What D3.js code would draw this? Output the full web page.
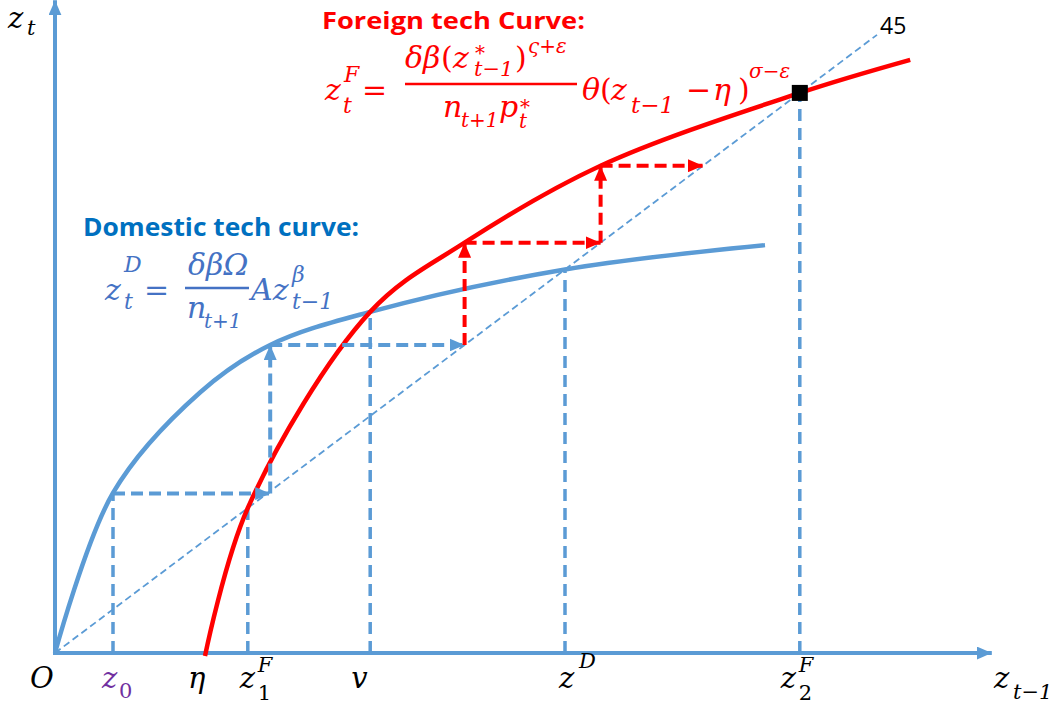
<!DOCTYPE html>
<html><head><meta charset="utf-8">
<script src="https://cdn.jsdelivr.net/npm/d3@7/dist/d3.min.js"></script>
<style>
html,body{margin:0;padding:0;background:#fff;}
svg{display:block;}
.mt{font-family:"DejaVu Serif",serif;}
.b{font-family:"Open Sans",Lato,sans-serif;font-weight:bold;}
.s{font-family:"Open Sans",Lato,sans-serif;}
</style></head>
<body>
<svg id="c" width="1058" height="706"></svg>
<script>
// ---------- data (model units; the 45-degree line is y = x) ----------
const domesticCurve = [[0,0],[0.725,2.66],[1.8125,4.33],[2.69,5.12],[3.94,5.67],[6.375,6.375],[8.875,6.78]];
const foreignCurve  = [[1.875,-0.05],[2.41,2.41],[3.94,5.67],[5.12,6.82],[6.82,8.1],[9.31,9.31],[10.69,9.86]];
const line45 = [[0,0],[10.275,10.275]];
const tickNames  = ["z0","eta","z1F","v","zD","z2F"];
const tickValues = [0.725,1.85,2.41,3.94,6.375,9.31];
const dropTops   = [2.65,null,2.41,5.67,6.375,9.31];
const blueSteps = [[[0.725,2.65],[2.69,2.65]],[[2.69,2.65],[2.69,5.12]],[[2.69,5.12],[5.12,5.12]]];
const redSteps  = [[[5.12,5.12],[5.12,6.82]],[[5.12,6.82],[6.82,6.82]],[[6.82,6.82],[6.82,8.1]],[[6.82,8.1],[8.1,8.1]]];
const fixedPoint = [9.31,9.31];
const axisMax = {x:11.71, y:10.85};

// ---------- scales ----------
const x = d3.scaleLinear().domain([0,12]).range([55,1015]);
const y = d3.scaleLinear().domain([0,12]).range([653,653-12*60.16]);

const svg = d3.select("#c");
const BLUE="#5B9BD5", RED="#FF0000";
const defs = svg.append("defs");
function marker(id,color,w,h){
  defs.append("marker").attr("id",id).attr("markerUnits","userSpaceOnUse")
    .attr("viewBox",`0 0 ${w} ${h}`).attr("refX",w).attr("refY",h/2)
    .attr("markerWidth",w).attr("markerHeight",h).attr("orient","auto")
    .append("path").attr("d",`M0,0L${w},${h/2}L0,${h}Z`).attr("fill",color);
}
marker("axA",BLUE,15,13);
marker("bA",BLUE,15,13);
marker("rA",RED,15,13);

const lineGen = d3.line().x(d=>x(d[0])).y(d=>y(d[1]));
const curveGen = d3.line().x(d=>x(d[0])).y(d=>y(d[1])).curve(d3.curveCatmullRom.alpha(0.5));

// 45-degree line
svg.append("path").attr("d",lineGen(line45)).attr("fill","none")
  .attr("stroke",BLUE).attr("stroke-width",1.8).attr("stroke-dasharray","7,4");

// drop lines
tickValues.forEach((v,i)=>{
  if(dropTops[i]==null) return;
  svg.append("line").attr("x1",x(v)).attr("x2",x(v)).attr("y1",y(0)).attr("y2",y(dropTops[i]))
    .attr("stroke",BLUE).attr("stroke-width",3.5).attr("stroke-dasharray","12,7");
});

// axes
svg.append("line").attr("x1",x(0)-2).attr("y1",y(0)).attr("x2",x(axisMax.x)).attr("y2",y(0))
  .attr("stroke",BLUE).attr("stroke-width",4).attr("marker-end","url(#axA)");
svg.append("line").attr("x1",x(0)).attr("y1",y(0)+2).attr("x2",x(0)).attr("y2",y(axisMax.y))
  .attr("stroke",BLUE).attr("stroke-width",4).attr("marker-end","url(#axA)");

// curves
svg.append("path").attr("d",curveGen(domesticCurve)).attr("fill","none").attr("stroke",BLUE).attr("stroke-width",4.5);
svg.append("path").attr("d",curveGen(foreignCurve)).attr("fill","none").attr("stroke",RED).attr("stroke-width",4.5);

// staircases
blueSteps.forEach(s=>{
  svg.append("line").attr("x1",x(s[0][0])).attr("y1",y(s[0][1])).attr("x2",x(s[1][0])).attr("y2",y(s[1][1]))
    .attr("stroke",BLUE).attr("stroke-width",4).attr("stroke-dasharray","12,6").attr("marker-end","url(#bA)");
});
redSteps.forEach(s=>{
  svg.append("line").attr("x1",x(s[0][0])).attr("y1",y(s[0][1])).attr("x2",x(s[1][0])).attr("y2",y(s[1][1]))
    .attr("stroke",RED).attr("stroke-width",4).attr("stroke-dasharray","12,6").attr("marker-end","url(#rA)");
});

// fixed point square
svg.append("rect").attr("x",x(fixedPoint[0])-8).attr("y",y(fixedPoint[1])-8).attr("width",16).attr("height",16).attr("fill","#000");

// ---------- math text helper: one <text> with absolutely placed tspans ----------
// spec item: [string, x, y, size, italic(1/0)]
function math(spec,color){
  const tx = svg.append("text").attr("class","mt").attr("fill",color);
  spec.forEach(s=>{
    tx.append("tspan").attr("x",s[1]).attr("y",s[2]).attr("font-size",s[3])
      .attr("font-style",s[4]?"italic":"normal").text(s[0]);
  });
  return tx;
}

// axis titles
math([["z",8,28,29,1],["t",27,35,21,1]],"#000");
math([["z",994,688,29,1],["t−1",1013,699,21,1]],"#000");
math([["O",30,688,29,1]],"#000");

// tick labels (positioned from the scale)
const X0 = tickValues.map(v=>x(v));
math([["z",X0[0]-11,688,29,1],["0",X0[0]+6,698,21,0]],"#7030A0");
math([["η",X0[1]-15,688,29,1]],"#000");
math([["z",X0[2]-8,688,29,1],["F",X0[2]+10,672,21,1],["1",X0[2]+10,700,21,0]],"#000");
math([["v",X0[3]-19,688,29,1]],"#000");
math([["z",X0[4]-6,688,29,1],["D",X0[4]+14,668,21,1]],"#000");
math([["z",X0[5]-19,688,29,1],["F",X0[5]-1,672,21,1],["2",X0[5]-1,700,21,0]],"#000");

// 45 label
svg.append("text").attr("class","s").attr("x",880).attr("y",34).attr("font-size",23).attr("fill","#000").text("45");

// Foreign tech curve title and formula
svg.append("text").attr("class","b").attr("x",322).attr("y",29).attr("font-size",24)
  .attr("textLength",263).attr("lengthAdjust","spacingAndGlyphs").attr("fill",RED).text("Foreign tech Curve:");
math([
  ["z",325,100,30,1],["t",343,113,22,1],["F",344,82,22,1],["=",362,100,30,0],
  ["δβ",405,68,30,1],["(",441,68,30,0],["z",453,68,30,1],["*",475,60,20,0],["t−1",474,76,21,1],[")",515,68,30,0],["ς+ε",528,53,20,1],
  ["n",443,117,30,1],["t+1",461,127,20,1],["p",499,117,30,1],["*",520,114,20,0],["t",519,128,20,1],
  ["θ",582,100,30,1],["(",600,100,30,0],["z",611,100,30,1],["t−1",631,113,23,1],["−",686,100,30,0],["η",713,100,30,1],[")",738,100,30,0],["σ−ε",749,78,20,1]
],RED);
svg.append("line").attr("x1",405).attr("x2",577).attr("y1",84).attr("y2",84).attr("stroke",RED).attr("stroke-width",2.5);

// Domestic tech curve title and formula
svg.append("text").attr("class","b").attr("x",83).attr("y",236).attr("font-size",25)
  .attr("textLength",276).attr("lengthAdjust","spacingAndGlyphs").attr("fill","#0070C0").text("Domestic tech curve:");
const D="#4472C4";
math([
  ["z",105,300,30,1],["D",124,272,22,1],["t",124,309,22,1],["=",144,300,30,0],
  ["δβΩ",188,275,30,1],["n",187,318,30,1],["t+1",204,328,20,1],
  ["Az",251,300,30,1],["β",292,282,22,1],["t−1",292,309,22,1]
],D);
svg.append("line").attr("x1",185).attr("x2",249).attr("y1",288).attr("y2",288).attr("stroke",D).attr("stroke-width",2.5);
</script>
</body></html>
